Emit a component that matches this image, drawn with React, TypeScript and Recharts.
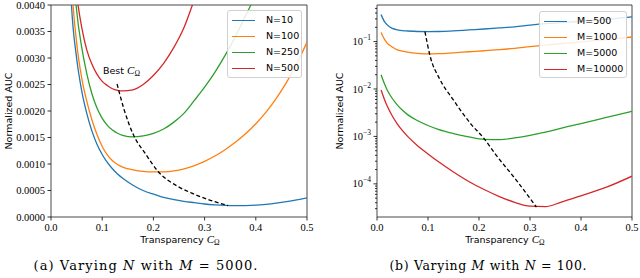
import React from "react";
import { LineChart, Line, XAxis, YAxis, ReferenceArea } from "recharts";

// ---- shared axis ticks ----
const X_TICKS = [0, 0.1, 0.2, 0.3, 0.4, 0.5];
const LIN_Y_TICKS = [0, 0.0005, 0.001, 0.0015, 0.002, 0.0025, 0.003, 0.0035, 0.004];
const LOG_Y_TICKS = [
  3e-5, 4e-5, 5e-5, 6e-5, 7e-5, 8e-5, 9e-5, 1e-4,
  2e-4, 3e-4, 4e-4, 5e-4, 6e-4, 7e-4, 8e-4, 9e-4, 1e-3,
  2e-3, 3e-3, 4e-3, 5e-3, 6e-3, 7e-3, 8e-3, 9e-3, 1e-2,
  2e-2, 3e-2, 4e-2, 5e-2, 6e-2, 7e-2, 8e-2, 9e-2, 1e-1,
  2e-1, 3e-1, 4e-1, 5e-1,
];

// ---- panel (a): varying N with M = 5000 ----
const X_A = [
  0.01, 0.02, 0.03, 0.04, 0.05, 0.06, 0.07, 0.08, 0.09, 0.1, 0.11, 0.12, 0.13, 0.14,
  0.16, 0.18, 0.2, 0.22, 0.24, 0.26, 0.28, 0.3, 0.32, 0.34, 0.36, 0.38, 0.4, 0.42,
  0.44, 0.46, 0.48, 0.5,
];
const N10 = [
  0.03, 0.0125, 0.0065, 0.004, 0.003, 0.00238, 0.00195, 0.00162, 0.00137, 0.00118, 0.00103,
  0.00091, 0.00081, 0.00073, 0.0006, 0.0005, 0.00043, 0.00037, 0.00033, 0.000295, 0.00027,
  0.000245, 0.000229, 0.000218, 0.000214, 0.000216, 0.000224, 0.00024, 0.000262, 0.000289,
  0.000322, 0.00036,
];
const N100 = [
  0.032, 0.014, 0.0075, 0.0045, 0.0033, 0.00262, 0.00218, 0.00183, 0.00155, 0.00133,
  0.00117, 0.00106, 0.00099, 0.00094, 0.00089, 0.00086, 0.00085, 0.00085, 0.00087, 0.00091,
  0.00097, 0.00105, 0.00115, 0.00127, 0.00141, 0.00157, 0.00176, 0.00198, 0.00224, 0.00254,
  0.00289, 0.0033,
];
const N250 = [
  0.035, 0.014, 0.0078, 0.0052, 0.0039, 0.0032, 0.0027, 0.00232, 0.00205, 0.00186, 0.00173,
  0.00164, 0.00158, 0.00154, 0.00151, 0.00153, 0.00158, 0.00166, 0.00179, 0.00196, 0.0022,
  0.00245, 0.00273, 0.00305, 0.0034, 0.0038, 0.0042, 0.0047, 0.0052, 0.0057, 0.0063, 0.0069,
];
const N500 = [
  0.025, 0.011, 0.0072, 0.0052, 0.0042, 0.00358, 0.00315, 0.00288, 0.00269, 0.00256, 0.00248,
  0.00242, 0.00239, 0.00238, 0.0024, 0.0025, 0.00267, 0.0029, 0.0032, 0.00358, 0.0041,
  0.0046, 0.0052, 0.0058, 0.0065, 0.0072, 0.008, 0.0088, 0.0097, 0.0106, 0.0116, 0.0127,
];
const BEST_A_X = [0.129, 0.143, 0.161, 0.184, 0.21, 0.249, 0.275, 0.307, 0.346];
const BEST_A_Y = [0.00251, 0.00202, 0.00155, 0.0012, 0.00085, 0.00057, 0.00045, 0.00033, 0.000215];

// ---- panel (b): varying M with N = 100 ----
const X_B = [
  0.008, 0.015, 0.02, 0.03, 0.04, 0.05, 0.06, 0.08, 0.1, 0.12, 0.15, 0.18, 0.21, 0.24,
  0.27, 0.3, 0.33, 0.36, 0.4, 0.45, 0.5,
];
const M500 = [
  0.37, 0.26, 0.225, 0.19, 0.177, 0.17, 0.167, 0.163, 0.162, 0.163, 0.168, 0.176, 0.184,
  0.194, 0.205, 0.222, 0.238, 0.25, 0.268, 0.295, 0.33,
];
const M1000 = [
  0.155, 0.11, 0.093, 0.077, 0.067, 0.063, 0.06, 0.0565, 0.055, 0.0555, 0.058, 0.061,
  0.064, 0.0675, 0.072, 0.078, 0.084, 0.09, 0.098, 0.11, 0.125,
];
const M5000 = [
  0.02, 0.0126, 0.00955, 0.0063, 0.00457, 0.00355, 0.00288, 0.00214, 0.0017, 0.00141,
  0.00115, 0.00098, 0.00087, 0.00086, 0.00093, 0.00105, 0.00123, 0.00148, 0.00186, 0.00251,
  0.00339,
];
const M10000 = [
  0.00955, 0.00589, 0.00437, 0.00269, 0.00182, 0.00132, 0.001, 0.00063, 0.000427, 0.000295,
  0.000178, 0.000112, 0.000076, 0.000054, 0.0000407, 0.0000339, 0.0000331, 0.0000407,
  0.000056, 0.000085, 0.000145,
];
const BEST_B_X = [0.094, 0.104, 0.123, 0.149, 0.185, 0.208, 0.234, 0.273, 0.3125];
const BEST_B_Y = [0.162, 0.0501, 0.0162, 0.00603, 0.00178, 0.000955, 0.000398, 0.00012, 0.0000324];

const COLORS = ["#1f77b4", "#ff7f0e", "#2ca02c", "#d62728"];
const N_LABELS = ["N=10", "N=100", "N=250", "N=500"];
const M_LABELS = ["M=500", "M=1000", "M=5000", "M=10000"];

const SANS = "'DejaVu Sans', sans-serif";
const SERIF = "'Liberation Serif', serif";
const CAPTION_SERIF = "'DejaVu Serif', serif";
const LOG_MIN = 2.0e-5;
const LOG_MAX = 0.59;

const toPoints = (xs: number[], ys: number[]) => xs.map((x, i) => ({ x, y: ys[i] }));

const LogTick = (props: any) => {
  const { x, y, payload } = props;
  const v = payload.value as number;
  const lg = Math.log10(v);
  const e = Math.round(lg);
  const major = Math.abs(lg - e) < 1e-6;
  return (
    <g>
      <line x1={x - (major ? 3.5 : 2)} x2={x} y1={y} y2={y} stroke="#000" strokeWidth={0.8} />
      {major && (
        <text x={x - 6} y={y + 3.6} textAnchor="end" fontFamily={SERIF} fontSize={10.5} fill="#000">
          10
          <tspan dy={-5} fontSize={7.5}>
            {"\u2212" + -e}
          </tspan>
        </text>
      )}
    </g>
  );
};

const tickStyle = { fontFamily: SERIF, fontSize: 10.5, fill: "#000" };

function Legend({ left, top, width, height, labels, textLeft }: any) {
  return (
    <div
      style={{
        position: "absolute",
        left,
        top,
        width,
        height,
        border: "1px solid #d0d0d0",
        borderRadius: 3,
        background: "rgba(255,255,255,0.85)",
        boxSizing: "border-box",
      }}
    >
      {labels.map((l: string, i: number) => (
        <div key={l}>
          <div
            style={{
              position: "absolute",
              left: 4,
              top: 8.5 + i * 16.1,
              width: 23,
              height: 1.4,
              background: COLORS[i],
            }}
          />
          <div
            style={{
              position: "absolute",
              left: textLeft,
              top: 3 + i * 16.1,
              fontFamily: SANS,
              fontSize: 9.5,
              lineHeight: "12px",
              color: "#000",
              whiteSpace: "nowrap",
            }}
          >
            {l}
          </div>
        </div>
      ))}
    </div>
  );
}

function PanelA() {
  const series = [N10, N100, N250, N500];
  return (
    <LineChart width={320} height={278} margin={{ top: 5, right: 13, bottom: 0, left: 0 }}>
      <XAxis
        type="number"
        dataKey="x"
        domain={[0, 0.5]}
        ticks={X_TICKS}
        allowDataOverflow
        interval={0}
        height={61}
        axisLine={false}
        tickSize={3.5}
        tickMargin={3.5}
        tickLine={{ stroke: "#000", strokeWidth: 0.8 }}
        tick={tickStyle}
        tickFormatter={(v: number) => v.toFixed(1)}
      />
      <YAxis
        type="number"
        dataKey="y"
        domain={[0, 0.004]}
        ticks={LIN_Y_TICKS}
        allowDataOverflow
        interval={0}
        width={51}
        axisLine={false}
        tickSize={3.5}
        tickMargin={2.5}
        tickLine={{ stroke: "#000", strokeWidth: 0.8 }}
        tick={tickStyle}
        tickFormatter={(v: number) => v.toFixed(4)}
      />
      {series.map((ys, i) => (
        <Line
          key={N_LABELS[i]}
          data={toPoints(X_A, ys)}
          dataKey="y"
          type="monotone"
          stroke={COLORS[i]}
          strokeWidth={1.3}
          dot={false}
          isAnimationActive={false}
        />
      ))}
      <Line
        data={toPoints(BEST_A_X, BEST_A_Y)}
        dataKey="y"
        type="monotone"
        stroke="#000"
        strokeWidth={1.3}
        strokeDasharray="4 2.5"
        dot={false}
        isAnimationActive={false}
      />
      <ReferenceArea x1={0} x2={0.5} y1={0} y2={0.004} fill="none" stroke="#333" strokeWidth={0.9} />
    </LineChart>
  );
}

function PanelB() {
  const series = [M500, M1000, M5000, M10000];
  return (
    <LineChart width={320} height={278} margin={{ top: 5, right: 8, bottom: 0, left: 0 }}>
      <XAxis
        type="number"
        dataKey="x"
        domain={[0, 0.5]}
        ticks={X_TICKS}
        allowDataOverflow
        interval={0}
        height={61}
        axisLine={false}
        tickSize={3.5}
        tickMargin={3.5}
        tickLine={{ stroke: "#000", strokeWidth: 0.8 }}
        tick={tickStyle}
        tickFormatter={(v: number) => v.toFixed(1)}
      />
      <YAxis
        type="number"
        dataKey="y"
        scale="log"
        domain={[LOG_MIN, LOG_MAX]}
        ticks={LOG_Y_TICKS}
        allowDataOverflow
        interval={0}
        width={57}
        axisLine={false}
        tickSize={0}
        tickMargin={0}
        tickLine={false}
        tick={<LogTick />}
      />
      {series.map((ys, i) => (
        <Line
          key={M_LABELS[i]}
          data={toPoints(X_B, ys)}
          dataKey="y"
          type="monotone"
          stroke={COLORS[i]}
          strokeWidth={1.3}
          dot={false}
          isAnimationActive={false}
        />
      ))}
      <Line
        data={toPoints(BEST_B_X, BEST_B_Y)}
        dataKey="y"
        type="monotone"
        stroke="#000"
        strokeWidth={1.3}
        strokeDasharray="4 2.5"
        dot={false}
        isAnimationActive={false}
      />
      <ReferenceArea x1={0} x2={0.5} y1={LOG_MIN} y2={LOG_MAX} fill="none" stroke="#333" strokeWidth={0.9} />
    </LineChart>
  );
}

function XLabel({ cx }: { cx: number }) {
  return (
    <text x={cx} y={243} textAnchor="middle" fontFamily={SANS} fontSize={9.5} fill="#000">
      Transparency{" "}
      <tspan fontFamily={SERIF} fontStyle="italic" fontSize={11}>
        C
      </tspan>
      <tspan fontFamily={SERIF} fontSize={7.5} dy={2}>
        Ω
      </tspan>
    </text>
  );
}

function YLabel({ cx }: { cx: number }) {
  return (
    <text
      x={cx}
      y={111}
      transform={`rotate(-90 ${cx} 111)`}
      textAnchor="middle"
      dominantBaseline="central"
      fontFamily={SANS}
      fontSize={9.5}
      fill="#000"
    >
      Normalized AUC
    </text>
  );
}

export default function App() {
  return (
    <div style={{ position: "absolute", left: 0, top: 0, width: 640, height: 278, background: "#fff" }}>
      <div style={{ position: "absolute", left: 0, top: 0 }}>
        <PanelA />
      </div>
      <div style={{ position: "absolute", left: 320, top: 0 }}>
        <PanelB />
      </div>
      <svg width={640} height={278} style={{ position: "absolute", left: 0, top: 0, pointerEvents: "none" }}>
        <YLabel cx={8} />
        <YLabel cx={339} />
        <XLabel cx={180} />
        <XLabel cx={505} />
        <text x={103} y={74} fontFamily={SANS} fontSize={9.5} fill="#000">
          Best{" "}
          <tspan fontFamily={SERIF} fontStyle="italic" fontSize={11}>
            C
          </tspan>
          <tspan fontFamily={SERIF} fontSize={7.5} dy={2}>
            Ω
          </tspan>
        </text>
        <text
          x={145.5}
          y={269.5}
          textAnchor="middle"
          fontFamily={CAPTION_SERIF}
          fontSize={13}
          textLength={224}
          lengthAdjust="spacing"
          fill="#000"
        >
          (a) Varying <tspan fontStyle="italic">N</tspan> with <tspan fontStyle="italic">M</tspan> = 5000.
        </text>
        <text
          x={488}
          y={269.5}
          textAnchor="middle"
          fontFamily={CAPTION_SERIF}
          fontSize={12.5}
          textLength={197}
          lengthAdjust="spacing"
          fill="#000"
        >
          (b) Varying <tspan fontStyle="italic">M</tspan> with <tspan fontStyle="italic">N</tspan> = 100.
        </text>
      </svg>
      <Legend left={227} top={10} width={75} height={68} labels={N_LABELS} textLeft={38} />
      <Legend left={539} top={11} width={88} height={67} labels={M_LABELS} textLeft={37} />
    </div>
  );
}
